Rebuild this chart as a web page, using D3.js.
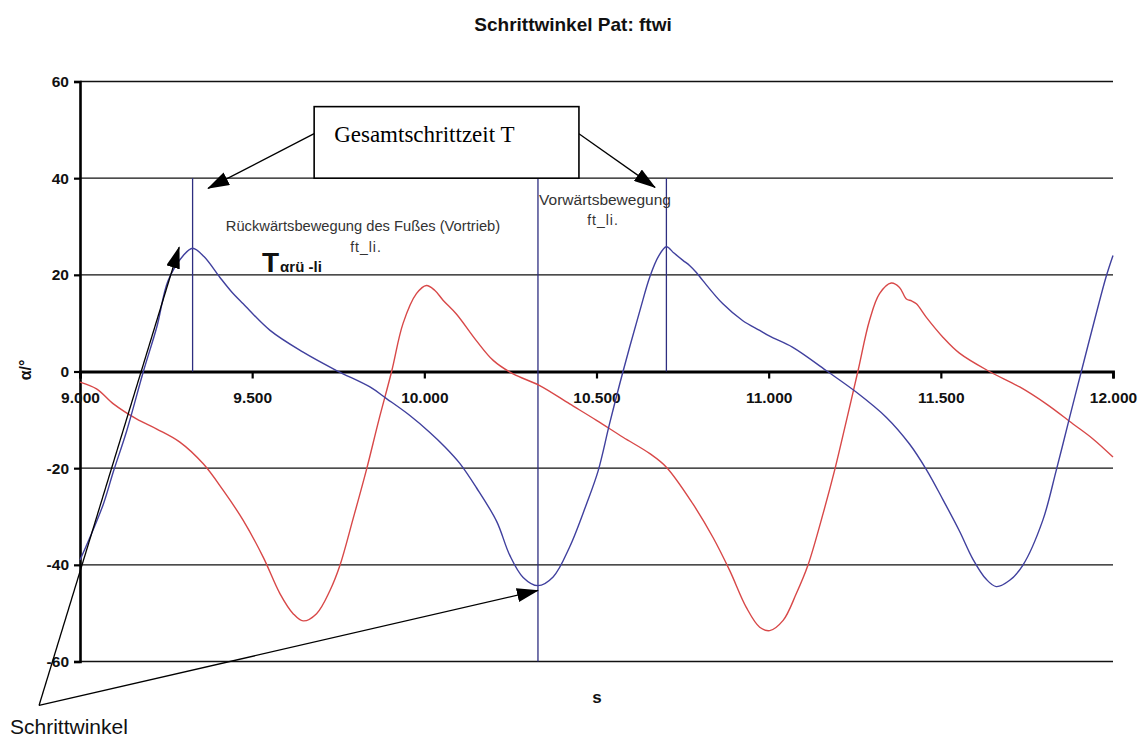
<!DOCTYPE html>
<html>
<head>
<meta charset="utf-8">
<script src="https://cdn.jsdelivr.net/npm/d3@7"></script>
<style>
  html, body { margin: 0; padding: 0; background: #fff; }
  svg { display: block; }
</style>
</head>
<body>
<svg id="chart" width="1144" height="738"></svg>
<script>
// Step angle, left foot (blue) — time in s, angle in degrees
const leftTime = [9.000, 9.029, 9.068, 9.097, 9.136, 9.184, 9.223, 9.256, 9.300, 9.327,
  9.360, 9.406, 9.440, 9.474, 9.552, 9.648, 9.745, 9.842, 9.890, 9.958,
  10.016, 10.060, 10.103, 10.151, 10.210, 10.248, 10.287, 10.330, 10.374, 10.422,
  10.471, 10.505, 10.538, 10.577, 10.626, 10.655, 10.680, 10.703, 10.725, 10.751,
  10.771, 10.790, 10.809, 10.867, 10.925, 10.974, 11.003, 11.070, 11.167, 11.255,
  11.342, 11.409, 11.458, 11.506, 11.554, 11.593, 11.632, 11.661, 11.700, 11.738,
  11.796, 11.835, 11.874, 11.908, 11.951, 11.980, 12.000];
const leftAngle = [-39.0, -34.3, -27.4, -20.7, -12.2, 0.0, 9.2, 18.8, 24.0, 25.5,
  23.8, 19.5, 16.5, 14.0, 8.5, 4.0, 0.2, -3.2, -5.6, -9.1,
  -12.6, -15.6, -19.0, -24.0, -31.0, -38.0, -42.6, -44.3, -42.5, -36.3,
  -27.4, -20.5, -10.8, 0.0, 12.6, 19.6, 23.8, 25.8, 24.5, 23.0,
  21.9, 20.5, 18.8, 14.0, 10.5, 8.5, 7.3, 5.0, 0.2, -4.3,
  -9.5, -15.0, -20.3, -26.5, -33.0, -38.8, -43.0, -44.5, -43.2, -40.1,
  -30.8, -20.5, -9.5, 0.0, 11.9, 19.6, 24.0];

// Step angle, right foot (red)
const rightTime = [9.000, 9.048, 9.097, 9.164, 9.223, 9.290, 9.358, 9.416, 9.474, 9.532,
  9.581, 9.619, 9.648, 9.687, 9.726, 9.755, 9.793, 9.832, 9.868, 9.905,
  9.938, 9.977, 10.006, 10.030, 10.055, 10.093, 10.151, 10.200, 10.258, 10.335,
  10.422, 10.500, 10.577, 10.655, 10.703, 10.780, 10.838, 10.887, 10.935, 10.974,
  11.003, 11.042, 11.080, 11.114, 11.158, 11.192, 11.226, 11.259, 11.293, 11.322,
  11.356, 11.380, 11.400, 11.415, 11.429, 11.458, 11.506, 11.554, 11.641, 11.729,
  11.806, 11.883, 11.941, 12.000];
const rightAngle = [-2.2, -3.6, -6.7, -9.8, -11.9, -14.6, -19.1, -24.6, -30.8, -38.4,
  -46.0, -50.1, -51.6, -50.1, -45.3, -40.1, -30.5, -20.3, -10.0, 0.0,
  9.9, 16.1, 17.8, 16.8, 14.7, 11.9, 6.4, 2.3, -0.5, -2.9,
  -6.7, -10.1, -13.6, -17.0, -19.8, -27.4, -34.3, -41.2, -48.8, -52.9,
  -53.6, -51.5, -46.0, -40.1, -29.4, -20.3, -10.1, 0.0, 10.6, 16.1,
  18.3, 17.4, 15.0, 14.6, 14.0, 11.2, 7.1, 3.8, 0.0, -3.2,
  -6.7, -10.8, -13.9, -17.7];

// Phase markers: time, lower end (upper end is 40°)
const markerTime = [9.327, 10.330, 10.703];
const markerLow = [0, -60, 0];

const xTicks = [9.0, 9.5, 10.0, 10.5, 11.0, 11.5, 12.0];
const yTicks = [-60, -40, -20, 0, 20, 40, 60];

const svg = d3.select("#chart");
const x = d3.scaleLinear().domain([9, 12]).range([80, 1113]);
const y = d3.scaleLinear().domain([-60, 60]).range([661.5, 81.5]);
const sans = "Liberation Sans, Arial, sans-serif";

svg.append("rect").attr("width", 1144).attr("height", 738).attr("fill", "#fff");

// arrowhead
svg.append("defs").append("marker")
  .attr("id", "arrow").attr("markerUnits", "userSpaceOnUse")
  .attr("markerWidth", 22).attr("markerHeight", 14)
  .attr("refX", 21).attr("refY", 7).attr("orient", "auto")
  .append("path").attr("d", "M0,0 L22,7 L0,14 Z").attr("fill", "#000");

// title
svg.append("text").attr("x", 573).attr("y", 31).attr("text-anchor", "middle")
  .attr("font-family", sans).attr("font-weight", "bold")
  .attr("font-size", 19).attr("fill", "#111").text("Schrittwinkel Pat: ftwi");

// horizontal grid
svg.append("g").selectAll("line").data(yTicks.filter(d => d !== 0)).join("line")
  .attr("x1", x(9)).attr("x2", x(12)).attr("y1", d => y(d)).attr("y2", d => y(d))
  .attr("stroke", "#111").attr("stroke-width", 1.4);

// y axis
const yAxis = svg.append("g").attr("transform", `translate(${x(9)},0)`)
  .call(d3.axisLeft(y).tickValues(yTicks).tickSize(6).tickPadding(5).tickFormat(d => String(d)));
yAxis.select(".domain").attr("stroke-width", 2.6).attr("stroke", "#000");
yAxis.selectAll(".tick line").attr("stroke-width", 2.2);
yAxis.selectAll(".tick text").attr("font-family", sans)
  .attr("font-weight", "bold").attr("font-size", 15.5).attr("fill", "#111");

// x axis on the zero line
const xAxis = svg.append("g").attr("transform", `translate(0,${y(0)})`)
  .call(d3.axisBottom(x).tickValues(xTicks).tickSize(7).tickPadding(13).tickFormat(d3.format(".3f")));
xAxis.select(".domain").attr("stroke-width", 2.8).attr("stroke", "#000");
xAxis.selectAll(".tick line").attr("stroke-width", 2.2);
xAxis.selectAll(".tick text").attr("font-family", sans)
  .attr("font-weight", "bold").attr("font-size", 15.5).attr("fill", "#111");

// axis titles
svg.append("text").attr("transform", "translate(31,370) rotate(-90)")
  .attr("text-anchor", "middle")
  .attr("font-family", sans).attr("font-weight", "bold")
  .attr("font-size", 16).attr("fill", "#111").text("α/°");
svg.append("text").attr("x", 597).attr("y", 703).attr("text-anchor", "middle")
  .attr("font-family", sans).attr("font-weight", "bold")
  .attr("font-size", 17).attr("fill", "#111").text("s");

// phase markers
svg.append("g").selectAll("line").data(markerTime).join("line")
  .attr("x1", d => x(d)).attr("x2", d => x(d))
  .attr("y1", y(40)).attr("y2", (d, i) => y(markerLow[i]))
  .attr("stroke", "#2e2e80").attr("stroke-width", 1.3);

// curves
const line = d3.line().x(d => x(d[0])).y(d => y(d[1])).curve(d3.curveCatmullRom.alpha(0.5));
svg.append("path").datum(rightTime.map((t, i) => [t, rightAngle[i]]))
  .attr("d", line).attr("fill", "none").attr("stroke", "#d84848").attr("stroke-width", 1.4);
svg.append("path").datum(leftTime.map((t, i) => [t, leftAngle[i]]))
  .attr("d", line).attr("fill", "none").attr("stroke", "#40409e").attr("stroke-width", 1.4);

// phase captions
svg.append("text").attr("x", 363).attr("y", 231).attr("text-anchor", "middle")
  .attr("font-family", sans).attr("font-size", 14.7).attr("fill", "#333")
  .text("Rückwärtsbewegung des Fußes (Vortrieb)");
svg.append("text").attr("x", 366).attr("y", 252).attr("text-anchor", "middle")
  .attr("font-family", sans).attr("font-size", 14).attr("letter-spacing", 1).attr("fill", "#333").text("ft_li.");
svg.append("text").attr("x", 605).attr("y", 205).attr("text-anchor", "middle")
  .attr("font-family", sans).attr("font-size", 15.5).attr("fill", "#333").text("Vorwärtsbewegung");
svg.append("text").attr("x", 603).attr("y", 225).attr("text-anchor", "middle")
  .attr("font-family", sans).attr("font-size", 14).attr("letter-spacing", 1).attr("fill", "#333").text("ft_li.");

const tLabel = svg.append("text").attr("x", 262).attr("y", 272)
  .attr("font-family", sans).attr("font-weight", "bold").attr("fill", "#111");
tLabel.append("tspan").attr("font-size", 28).text("T");
tLabel.append("tspan").attr("font-size", 15).attr("dx", 1).text("αrü -li");

// "Gesamtschrittzeit T" box and its arrows
const boxT0 = 9.680, boxT1 = 10.449, boxTop = 54.8;
svg.append("line").attr("x1", x(boxT0)).attr("y1", y(49.2)).attr("x2", x(9.372)).attr("y2", y(37.9))
  .attr("stroke", "#000").attr("stroke-width", 1.3).attr("marker-end", "url(#arrow)");
svg.append("line").attr("x1", x(boxT1)).attr("y1", y(49.2)).attr("x2", x(10.670)).attr("y2", y(38.1))
  .attr("stroke", "#000").attr("stroke-width", 1.3).attr("marker-end", "url(#arrow)");
svg.append("rect").attr("x", x(boxT0)).attr("y", y(boxTop))
  .attr("width", x(boxT1) - x(boxT0)).attr("height", y(40) - y(boxTop))
  .attr("fill", "#fff").attr("stroke", "#000").attr("stroke-width", 1.6);
svg.append("text").attr("x", x(boxT0) + 20).attr("y", 142)
  .attr("font-family", "Liberation Serif, Times New Roman, serif").attr("font-size", 23)
  .attr("fill", "#000").text("Gesamtschrittzeit T");

// "Schrittwinkel" arrows
const origin = [8.881, -69.1];
[[9.288, 25.7], [10.330, -45.3]].forEach(tip => {
  svg.append("line").attr("x1", x(origin[0])).attr("y1", y(origin[1]))
    .attr("x2", x(tip[0])).attr("y2", y(tip[1]))
    .attr("stroke", "#000").attr("stroke-width", 1.3).attr("marker-end", "url(#arrow)");
});
svg.append("text").attr("x", 10).attr("y", 734)
  .attr("font-family", sans).attr("font-size", 21).attr("fill", "#111").text("Schrittwinkel");
</script>
</body>
</html>
